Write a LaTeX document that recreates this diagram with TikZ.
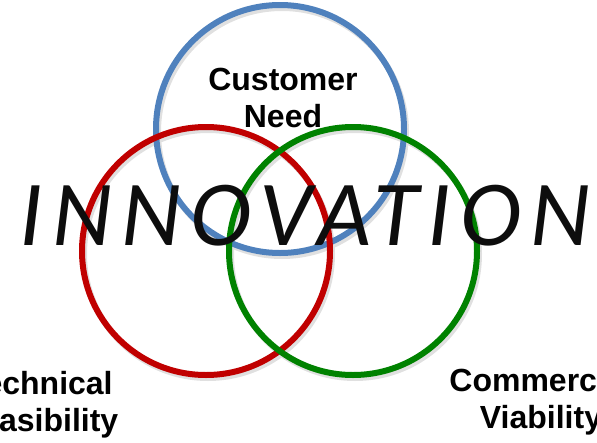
\documentclass[tikz,border=0pt]{standalone}
\usepackage{fontspec}
\usepackage{tikz}
\setmainfont{Liberation Sans}
\newfontfamily\bigword[LetterSpace=10]{Carlito}
\definecolor{needblue}{RGB}{79,129,189}
\definecolor{techred}{RGB}{192,0,0}
\definecolor{commgreen}{RGB}{0,130,0}
\tikzset{
    ring/.style={line width=6pt},
    ringshadow/.style={line width=6pt, black!12},
    label/.style={font=\bfseries\fontsize{32}{37}\selectfont, align=center}
}

\begin{document}
\begin{tikzpicture}[x=1pt, y=-1pt]
    \useasboundingbox (0,0) rectangle (597,442);

    \coordinate (N) at (280,129);
    \coordinate (T) at (206,251);
    \coordinate (C) at (353,251);

    \pgfmathsetmacro{\R}{124}  % units of pixels

    % soft shadow under the rings
    \foreach \p in {N,T,C}
        \draw[ringshadow] ([shift={(2,3)}]\p) circle (\R);

    \draw[ring, needblue] (N) circle (\R);
    \draw[ring, techred] (T) circle (\R);
    \draw[ring, commgreen] (C) circle (\R);

    \node[anchor=base, font=\bigword\itshape\fontsize{93}{100}\selectfont, text=black!95]
        (innov) at (305,245) {INNOVATION};

    \node[label] (need) at (283,98) {Customer\\Need};
    \node[label] (tech) at (40,405) {Technical\\Feasibility};
    \node[label] (comm) at (541,402) {Commercial\\Viability};
\end{tikzpicture}
\end{document}
